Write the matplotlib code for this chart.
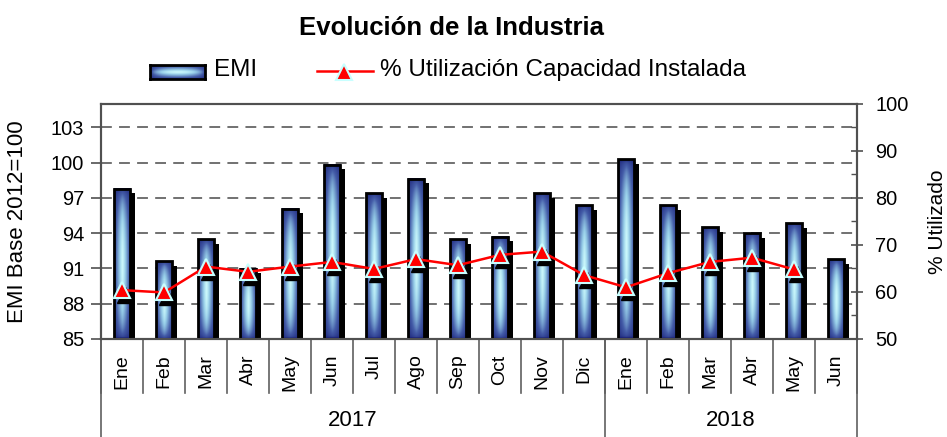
import numpy as np
import matplotlib
matplotlib.use('Agg')
import matplotlib.pyplot as plt
from matplotlib.transforms import ScaledTranslation, blended_transform_factory
from matplotlib.lines import Line2D
from matplotlib.ticker import MultipleLocator
from matplotlib.colors import LinearSegmentedColormap

plt.rcParams['font.family'] = ['Liberation Sans', 'DejaVu Sans']

meses = ['Ene', 'Feb', 'Mar', 'Abr', 'May', 'Jun', 'Jul', 'Ago', 'Sep', 'Oct', 'Nov', 'Dic',
         'Ene', 'Feb', 'Mar', 'Abr', 'May', 'Jun']
anios = ['2017', '2018']
meses_por_anio = [12, 6]
emi = [97.8, 91.6, 93.5, 91.0, 96.1, 99.85, 97.4, 98.65, 93.5, 93.7, 97.4, 96.4,
       100.3, 96.4, 94.5, 94.0, 94.85, 91.8]
capacidad = [60.4, 59.9, 65.4, 64.3, 65.4, 66.4, 64.9, 67.0, 65.7, 67.9, 68.6, 63.6,
             61.0, 64.0, 66.4, 67.3, 64.8]

cmap_barra = LinearSegmentedColormap.from_list('barra', [
    (0.0, (22 / 255, 28 / 255, 115 / 255)),
    (0.45, (68 / 255, 92 / 255, 168 / 255)),
    (0.8, (150 / 255, 205 / 255, 232 / 255)),
    (1.0, (205 / 255, 250 / 255, 252 / 255)),
])


def gradiente(nx=48, ny=96):
    u = np.linspace(-1, 1, nx)
    v = np.linspace(0, 1, ny)
    hx = 1 - 0.7 * np.abs(u) ** 1.2
    vy = np.sin(np.pi * v) ** 0.35
    return vy[:, None] * hx[None, :]


fig = plt.figure(figsize=(9.47, 4.37), dpi=100)
ax = fig.add_axes([101 / 947, 1 - 339 / 437, 756 / 947, 235 / 437])
ax2 = ax.twinx()

x = np.arange(len(meses))
w = 0.40
base = 85
alturas = np.array(emi) - base

# sombra de las barras
sombra = ax.transData + ScaledTranslation(5 / 100, -4.5 / 100, fig.dpi_scale_trans)
ax.bar(x, alturas, w, bottom=base, color='black', transform=sombra, zorder=2)

grad = gradiente()
for xi, v in zip(x, emi):
    ax.imshow(grad, extent=[xi - w / 2, xi + w / 2, base, v], aspect='auto', cmap=cmap_barra,
              vmin=0, vmax=1, origin='lower', interpolation='bilinear', zorder=3)
ax.bar(x, alturas, w, bottom=base, fill=False, edgecolor='black', linewidth=2, zorder=4)

ax.set_xlim(-0.5, len(meses) - 0.5)
ax.set_ylim(85, 105)
ax.set_yticks(np.arange(85, 104, 3))
ax.yaxis.grid(True, linestyle=(0, (6, 4)), color='#666666', linewidth=1.3)
ax.set_axisbelow(True)
ax.tick_params(axis='y', direction='out', length=7, width=1.2, color='#505050',
               labelsize=14.4, pad=5)
ax.set_xticks(x)
ax.set_xticklabels(meses, rotation=90, fontsize=14)
ax.tick_params(axis='x', length=0, pad=11)
ax.set_ylabel('EMI Base 2012=100', fontsize=16)
ax.yaxis.set_label_coords(-0.096, 0.5)

# eje derecho
ax2.set_ylim(50, 100)
ax2.set_yticks(np.arange(50, 101, 10))
ax2.yaxis.set_minor_locator(MultipleLocator(5))
ax2.tick_params(axis='y', which='major', direction='inout', length=9, width=1.2,
                color='#505050', labelsize=14.4, pad=8.5)
ax2.tick_params(axis='y', which='minor', direction='in', length=4.5, width=1.0,
                color='#505050')
ax2.set_ylabel('% Utilizado', fontsize=15)
ax2.yaxis.set_label_coords(1.094, 0.5)

sombra2 = ax2.transData + ScaledTranslation(3 / 100, -5 / 100, fig.dpi_scale_trans)
ax2.plot(x[:len(capacidad)], capacidad, ls='none', marker='^', ms=11, color='black',
         transform=sombra2, zorder=4)
ax2.plot(x[:len(capacidad)], capacidad, color='red', lw=1.8, marker='^', ms=11,
         mfc='red', mec='#c8ffff', mew=1.5, zorder=5)

for a in (ax, ax2):
    for s in a.spines.values():
        s.set_color('#505050')
        s.set_linewidth(1.5)

# separadores del eje x
trans = blended_transform_factory(ax.transData, ax.transAxes)
for b in np.arange(-0.5, len(meses), 1):
    ax.plot([b, b], [0, -0.23], transform=trans, clip_on=False, color='#606060', lw=1.2)
inicio = 0
for anio, n in zip(anios, meses_por_anio):
    ax.plot([inicio - 0.5, inicio - 0.5], [0, -0.45], transform=trans, clip_on=False,
            color='#606060', lw=1.2)
    ax.text(inicio + n / 2 - 0.5, -0.345, anio, transform=trans, ha='center', va='center',
            fontsize=16)
    inicio += n
ax.plot([inicio - 0.5, inicio - 0.5], [0, -0.45], transform=trans, clip_on=False,
        color='#606060', lw=1.2)

# leyenda
lax = fig.add_axes([150 / 947, 1 - 79 / 437, 55 / 947, 14 / 437])
lax.imshow(gradiente(24, 48).T, aspect='auto', cmap=cmap_barra, vmin=0, vmax=1,
           interpolation='bilinear')
lax.set_xticks([])
lax.set_yticks([])
for s in lax.spines.values():
    s.set_color('black')
    s.set_linewidth(2)
fig.text(214 / 947, 1 - 70 / 437, 'EMI', va='center', fontsize=17.5)
fig.add_artist(Line2D([317 / 947, 373 / 947], [1 - 71 / 437] * 2, transform=fig.transFigure,
                      color='red', lw=1.8))
fig.add_artist(Line2D([344 / 947], [1 - 72 / 437], transform=fig.transFigure, marker='^',
                      ms=11, mfc='red', mec='#c8ffff', mew=1.5, ls='none'))
fig.text(380 / 947, 1 - 70 / 437, '% Utilización Capacidad Instalada', va='center',
         fontsize=17.5)

fig.text(0.477, 0.936, 'Evolución de la Industria', ha='center', va='center',
         fontsize=18.5, weight='bold')

fig.savefig('out.png', dpi=100)
